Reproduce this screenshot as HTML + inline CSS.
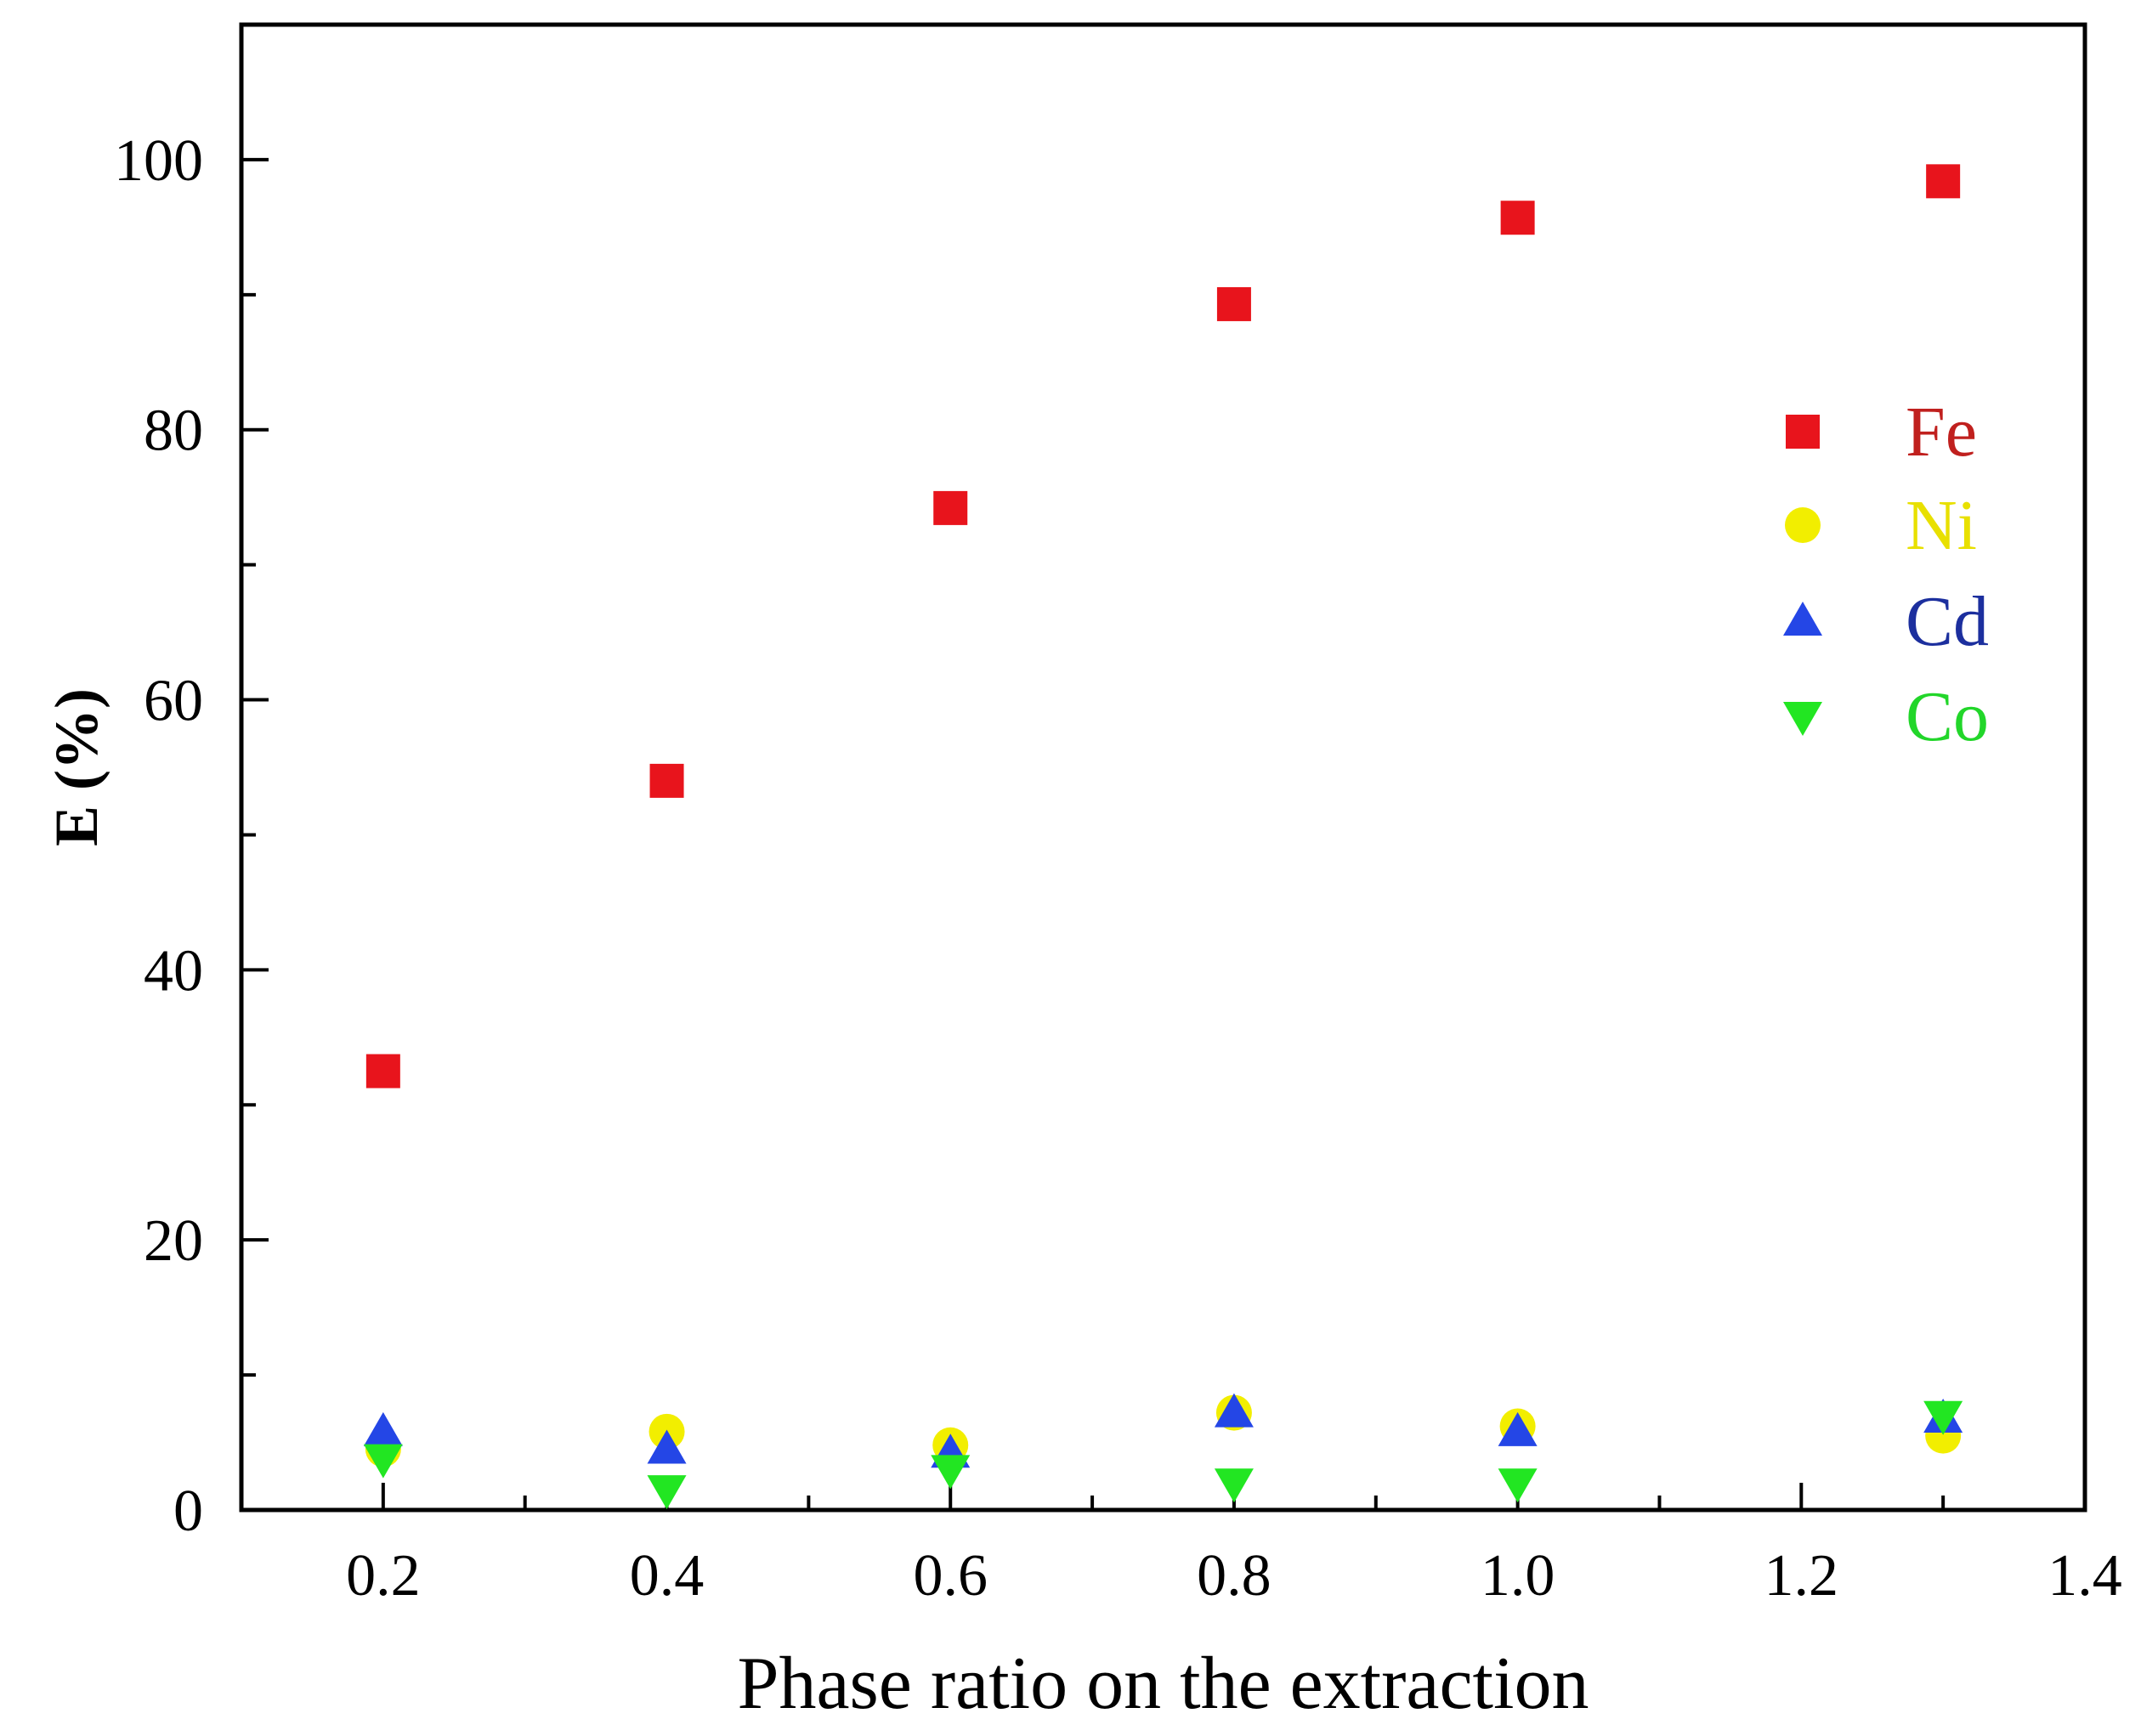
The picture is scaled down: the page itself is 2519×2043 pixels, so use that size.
<!DOCTYPE html>
<html><head><meta charset="utf-8">
<style>html,body{margin:0;padding:0;background:#fff;}svg{display:block;font-family:"Liberation Serif",serif;}</style>
</head><body>
<svg id="chart" width="2519" height="2043" viewBox="0 0 2519 2043" xmlns="http://www.w3.org/2000/svg"></svg>
<script>
const xValues = [0.2, 0.4, 0.6, 0.8, 1.0, 1.3];
const feValues = [32.5, 54.0, 74.2, 89.3, 95.7, 98.4];
const niValues = [4.5, 5.8, 4.8, 7.2, 6.2, 5.5];
const cdValues = [5.8, 4.5, 4.2, 7.2, 5.8, 6.8];
const coValues = [3.8, 1.5, 3.0, 2.0, 2.0, 7.0];
const xTickLabels = ["0.2","0.4","0.6","0.8","1.0","1.2","1.4"];
const yTickLabels = ["0","20","40","60","80","100"];
const seriesNames = ["Fe","Ni","Cd","Co"];

const NS = "http://www.w3.org/2000/svg";
const svg = document.getElementById('chart');
const L=284, R=2453, T=29, B=1777;
const X0=0.1, X1=1.4, Y0=0, Y1=110;
function sx(v){return L+(v-X0)/(X1-X0)*(R-L);}
function sy(v){return B-(v-Y0)/(Y1-Y0)*(B-T);}
function mk(tag, attrs, parent){const e=document.createElementNS(NS,tag);for(const k in attrs)e.setAttribute(k,attrs[k]);(parent||svg).appendChild(e);return e;}

const frame = mk('rect',{x:L,y:T,width:R-L,height:B-T,fill:'none',stroke:'#000','stroke-width':5});



for(let i=0;i<=12;i++){
  const v=0.2+i*0.1; if(v>1.4001) break;
  const major = i%2===0;
  const t = mk('line',{x1:sx(v),x2:sx(v),y1:B,y2:B-(major?32:17),stroke:'#000','stroke-width':4});
  
  
}
xTickLabels.forEach(s=>{
  const t=mk('text',{x:sx(parseFloat(s)),y:B+100,'font-size':70,'text-anchor':'middle',fill:'#000'});
  t.textContent=s;
  
  
});
for(let v=0; v<=110; v+=10){
  const major = v%20===0;
  const t = mk('line',{x1:L,x2:L+(major?32:17),y1:sy(v),y2:sy(v),stroke:'#000','stroke-width':4});
  
  
}
yTickLabels.forEach(s=>{
  const t=mk('text',{x:L-45,y:sy(parseFloat(s))+24,'font-size':70,'text-anchor':'end',fill:'#000'});
  t.textContent=s;
  
  
});
const xt=mk('text',{x:(L+R)/2,y:2010,'font-size':88,'text-anchor':'middle',fill:'#000'});
xt.textContent='Phase ratio on the extraction';


const yt=mk('text',{x:0,y:0,'font-size':72,'font-weight':'bold','text-anchor':'middle',fill:'#000',transform:'translate(114,903) rotate(-90)'});
yt.textContent='E (%)';



function marker(type,cx,cy,color){
  let e;
  if(type==='square') e=mk('rect',{x:cx-20,y:cy-20,width:40,height:40,fill:color});
  else if(type==='circle') e=mk('circle',{cx:cx,cy:cy,r:21,fill:color});
  else if(type==='up') e=mk('polygon',{points:`${cx},${cy-23} ${cx-23},${cy+17} ${cx+23},${cy+17}`,fill:color});
  else e=mk('polygon',{points:`${cx},${cy+23} ${cx-23},${cy-17} ${cx+23},${cy-17}`,fill:color});
  return e;
}
const series=[
  {vals:niValues,type:'circle',color:'#f2ee00',text:'#e8e000',name:'ni'},
  {vals:cdValues,type:'up',color:'#2446e6',text:'#1c2f9e',name:'cd'},
  {vals:coValues,type:'down',color:'#22e622',text:'#22d62a',name:'co'},
  {vals:feValues,type:'square',color:'#e8141c',text:'#c0201e',name:'fe'}
];
series.forEach(s=>{
  s.vals.forEach((v,i)=>{
    const m=marker(s.type,sx(xValues[i]),sy(v),s.color);
    
    
  });
});
const legendOrder=[series[3],series[0],series[1],series[2]];
const rowsY=[508,618,731,843];
legendOrder.forEach((s,i)=>{
  const m=marker(s.type,2121,rowsY[i],s.color);
  
  
  const t=mk('text',{x:2242,y:rowsY[i]+28,'font-size':84,fill:s.text});
  t.textContent=seriesNames[i];
  
  
});
</script>
</body></html>
